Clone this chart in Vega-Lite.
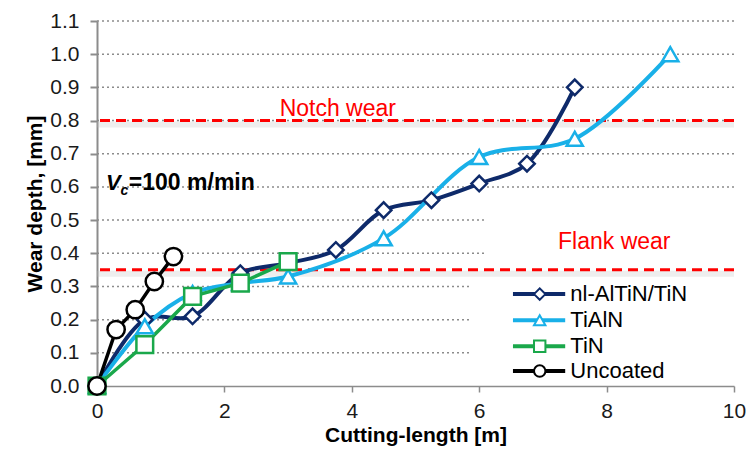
{
  "$schema": "https://vega.github.io/schema/vega-lite/v6.json",
  "width": 637,
  "height": 365,
  "autosize": {"type": "none"},
  "padding": {"left": 97, "top": 21, "right": 12, "bottom": 69},
  "background": "white",
  "config": {
    "font": "Liberation Sans",
    "view": {"stroke": null},
    "axis": {
      "labelFontSize": 21, "labelColor": "#1a1a1a", "labelFlush": false, "labelOverlap": false,
      "titleFontSize": 21, "titleFontWeight": "bold", "titleColor": "#000000",
      "domainColor": "#8c8c8c", "tickColor": "#8c8c8c", "grid": false
    }
  },
  "datasets": {
    "series": [
      {"s": "nl-AlTiN/TiN", "x": 0, "y": 0},
      {"s": "nl-AlTiN/TiN", "x": 0.75, "y": 0.2},
      {"s": "nl-AlTiN/TiN", "x": 1.5, "y": 0.21},
      {"s": "nl-AlTiN/TiN", "x": 2.25, "y": 0.34},
      {"s": "nl-AlTiN/TiN", "x": 3, "y": 0.37},
      {"s": "nl-AlTiN/TiN", "x": 3.75, "y": 0.41},
      {"s": "nl-AlTiN/TiN", "x": 4.5, "y": 0.53},
      {"s": "nl-AlTiN/TiN", "x": 5.25, "y": 0.56},
      {"s": "nl-AlTiN/TiN", "x": 6, "y": 0.61},
      {"s": "nl-AlTiN/TiN", "x": 6.75, "y": 0.67},
      {"s": "nl-AlTiN/TiN", "x": 7.5, "y": 0.9},
      {"s": "TiAlN", "x": 0, "y": 0},
      {"s": "TiAlN", "x": 0.75, "y": 0.18},
      {"s": "TiAlN", "x": 1.5, "y": 0.28},
      {"s": "TiAlN", "x": 2.25, "y": 0.31},
      {"s": "TiAlN", "x": 3, "y": 0.33},
      {"s": "TiAlN", "x": 4.5, "y": 0.445},
      {"s": "TiAlN", "x": 6, "y": 0.69},
      {"s": "TiAlN", "x": 7.5, "y": 0.745},
      {"s": "TiAlN", "x": 9, "y": 1.0},
      {"s": "TiN", "x": 0, "y": 0},
      {"s": "TiN", "x": 0.75, "y": 0.125},
      {"s": "TiN", "x": 1.5, "y": 0.27},
      {"s": "TiN", "x": 2.25, "y": 0.31},
      {"s": "TiN", "x": 3, "y": 0.375},
      {"s": "Uncoated", "x": 0, "y": 0},
      {"s": "Uncoated", "x": 0.3, "y": 0.17},
      {"s": "Uncoated", "x": 0.6, "y": 0.23},
      {"s": "Uncoated", "x": 0.9, "y": 0.315},
      {"s": "Uncoated", "x": 1.2, "y": 0.39}
    ],
    "grid": [
      {"y": 0.1}, {"y": 0.2}, {"y": 0.3}, {"y": 0.4}, {"y": 0.5}, {"y": 0.6},
      {"y": 0.7}, {"y": 0.8}, {"y": 0.9}, {"y": 1.0}, {"y": 1.1}
    ],
    "boxes": [
      {"x": 5.86, "x2": 10, "y": 0.01, "y2": 0.32},
      {"x": 6.08, "x2": 10, "y": 0.37, "y2": 0.56}
    ],
    "refs": [{"y": 0.8}, {"y": 0.35}],
    "notes": [
      {"x": 3.78, "y": 0.836, "t": "Notch wear"},
      {"x": 8.12, "y": 0.433, "t": "Flank wear"}
    ],
    "legend": [
      {"s": "nl-AlTiN/TiN", "x": 6.53, "x2": 7.35, "xm": 6.95, "xt": 7.43, "y": 0.277},
      {"s": "TiAlN", "x": 6.53, "x2": 7.35, "xm": 6.95, "xt": 7.43, "y": 0.198},
      {"s": "TiN", "x": 6.53, "x2": 7.35, "xm": 6.95, "xt": 7.43, "y": 0.12},
      {"s": "Uncoated", "x": 6.53, "x2": 7.35, "xm": 6.95, "xt": 7.43, "y": 0.045}
    ]
  },
  "encoding": {
    "x": {"field": "x", "type": "quantitative", "scale": {"domain": [0, 10], "nice": false},
      "axis": {"title": "Cutting-length [m]", "values": [0, 2, 4, 6, 8, 10], "format": "d", "grid": false,
        "domainWidth": 1.5, "tickWidth": 1.5, "tickSize": 6, "labelPadding": 8, "titlePadding": 3}},
    "y": {"field": "y", "type": "quantitative", "scale": {"domain": [0, 1.1], "nice": false},
      "axis": {"title": "Wear depth, [mm]", "values": [0, 0.1, 0.2, 0.3, 0.4, 0.5, 0.6, 0.7, 0.8, 0.9, 1.0, 1.1], "format": ".1f",
        "grid": false, "domainWidth": 2, "tickWidth": 2, "tickSize": 7, "labelPadding": 11, "titlePadding": 4}}
  },
  "layer": [
    {
      "data": {"name": "grid"},
      "mark": {"type": "rule", "color": "#8c8c8c", "strokeWidth": 1.5, "strokeDash": [2, 3]},
      "encoding": {"x": null}
    },
    {
      "data": {"name": "boxes"},
      "mark": {"type": "rect", "fill": "white"},
      "encoding": {
        "x2": {"field": "x2"},
        "y2": {"field": "y2"}
      }
    },
    {
      "data": {"name": "refs"},
      "mark": {"type": "rule", "color": "#bbbbbb", "strokeWidth": 6, "opacity": 0.25, "yOffset": 4},
      "encoding": {"x": null}
    },
    {
      "data": {"name": "refs"},
      "mark": {"type": "rule", "color": "#ff0000", "strokeWidth": 3, "strokeDash": [10, 6]},
      "encoding": {"x": null}
    },
    {
      "data": {"name": "series"},
      "transform": [{"filter": "datum.s === 'nl-AlTiN/TiN' || datum.s === 'TiAlN'"}],
      "mark": {"type": "line", "interpolate": "catmull-rom", "strokeWidth": 4},
      "encoding": {
        "color": {"field": "s", "type": "nominal", "legend": null,
          "scale": {"domain": ["nl-AlTiN/TiN", "TiAlN", "TiN", "Uncoated"], "range": ["#0e2a6a", "#19b0e8", "#1aa84b", "#000000"]}},
        "order": {"field": "x", "type": "quantitative"}
      }
    },
    {
      "data": {"name": "series"},
      "transform": [{"filter": "datum.s === 'TiN' || datum.s === 'Uncoated'"}],
      "mark": {"type": "line", "strokeWidth": 3.5},
      "encoding": {
        "color": {"field": "s", "type": "nominal", "legend": null},
        "order": {"field": "x", "type": "quantitative"}
      }
    },
    {
      "data": {"name": "series"},
      "mark": {"type": "point", "filled": true, "fill": "white", "strokeWidth": 2.5, "opacity": 1},
      "encoding": {
        "stroke": {"field": "s", "type": "nominal", "legend": null,
          "scale": {"domain": ["nl-AlTiN/TiN", "TiAlN", "TiN", "Uncoated"], "range": ["#0e2a6a", "#19b0e8", "#1aa84b", "#000000"]}},
        "shape": {"field": "s", "type": "nominal", "legend": null,
          "scale": {"domain": ["nl-AlTiN/TiN", "TiAlN", "TiN", "Uncoated"], "range": ["diamond", "triangle-up", "square", "circle"]}},
        "size": {"field": "s", "type": "nominal", "legend": null,
          "scale": {"domain": ["nl-AlTiN/TiN", "TiAlN", "TiN", "Uncoated"], "range": [240, 300, 320, 320]}}
      }
    },
    {
      "data": {"name": "notes"},
      "mark": {"type": "text", "color": "#ff0000", "fontSize": 23, "align": "center", "baseline": "middle"},
      "encoding": {"text": {"field": "t"}}
    },
    {
      "data": {"values": [{"x": 0.14, "y": 0.613, "t": "V"}]},
      "mark": {"type": "text", "fontSize": 22, "fontWeight": "bold", "fontStyle": "italic", "align": "left", "baseline": "middle", "color": "#000000"},
      "encoding": {"text": {"field": "t"}}
    },
    {
      "data": {"values": [{"x": 0.37, "y": 0.588, "t": "c"}]},
      "mark": {"type": "text", "fontSize": 14, "fontWeight": "bold", "fontStyle": "italic", "align": "left", "baseline": "middle", "color": "#000000"},
      "encoding": {"text": {"field": "t"}}
    },
    {
      "data": {"values": [{"x": 0.5, "y": 0.613, "t": "=100 m/min"}]},
      "mark": {"type": "text", "fontSize": 23, "fontWeight": "bold", "align": "left", "baseline": "middle", "color": "#000000"},
      "encoding": {"text": {"field": "t"}}
    },
    {
      "data": {"name": "legend"},
      "mark": {"type": "rule", "strokeWidth": 4},
      "encoding": {
        "x2": {"field": "x2"},
        "color": {"field": "s", "type": "nominal", "legend": null}
      }
    },
    {
      "data": {"name": "legend"},
      "mark": {"type": "point", "filled": true, "fill": "white", "strokeWidth": 2, "opacity": 1},
      "encoding": {
        "x": {"field": "xm", "type": "quantitative"},
        "stroke": {"field": "s", "type": "nominal", "legend": null},
        "shape": {"field": "s", "type": "nominal", "legend": null},
        "size": {"value": 130}
      }
    },
    {
      "data": {"name": "legend"},
      "mark": {"type": "text", "fontSize": 22, "align": "left", "baseline": "middle", "color": "#000000"},
      "encoding": {
        "x": {"field": "xt", "type": "quantitative"},
        "text": {"field": "s"}
      }
    }
  ]
}
